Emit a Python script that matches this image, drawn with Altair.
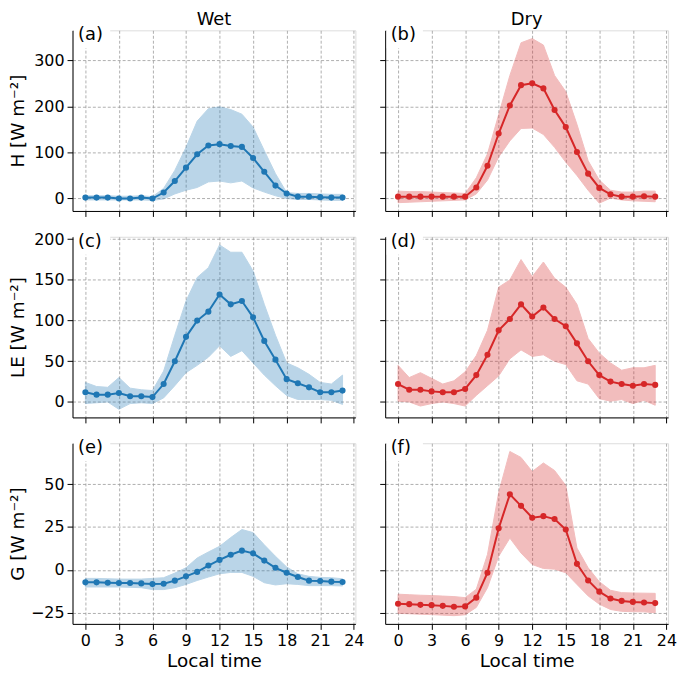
import altair as alt
import pandas as pd

hours = list(range(24))

wet_H_mean = [2, 2, 2, 0, 0, 2, 0, 13, 38, 67, 96, 115, 118, 114, 112, 88, 58, 28, 11, 4, 4, 3, 2, 2]
wet_H_hi = [6, 6, 6, 5, 5, 6, 4, 22, 61, 111, 168, 195, 199, 193, 183, 155, 104, 54, 13, 11, 11, 10, 9, 9]
wet_H_lo = [-3, -3, -3, -3, -3, -3, -4, -1, 10, 18, 24, 36, 38, 34, 38, 23, 14, 6, 0, -2, -2, -3, -4, -4]

dry_H_mean = [4, 4, 4, 4, 4, 4, 4, 24, 71, 141, 202, 246, 250, 239, 192, 155, 101, 54, 23, 9, 4, 4, 5, 4]
dry_H_hi = [16, 15, 15, 14, 13, 12, 11, 45, 97, 182, 267, 338, 347, 333, 267, 232, 161, 82, 40, 18, 14, 14, 16, 16]
dry_H_lo = [-9, -8, -7, -6, -5, -4, -3, 10, 40, 90, 125, 152, 153, 139, 111, 79, 50, 18, -10, 1, -3, -5, -6, -7]

wet_LE_mean = [12, 9, 9, 11, 7, 7, 6, 22, 50, 80, 100, 111, 132, 120, 124, 104, 75, 52, 28, 23, 18, 12, 12, 14]
wet_LE_hi = [24, 19, 18, 30, 17, 15, 14, 38, 82, 124, 153, 165, 193, 184, 184, 161, 120, 82, 48, 42, 34, 24, 22, 33]
wet_LE_lo = [-2, -1, 0, -9, -2, -1, -2, 5, 20, 36, 45, 55, 69, 56, 63, 48, 33, 20, 8, 3, 3, 3, 2, -3]

dry_LE_mean = [22, 15, 15, 13, 12, 12, 16, 33, 58, 88, 102, 120, 105, 116, 102, 93, 72, 50, 33, 25, 22, 20, 22, 21]
dry_LE_hi = [45, 30, 36, 29, 22, 26, 37, 57, 88, 141, 150, 175, 154, 172, 152, 141, 120, 78, 60, 48, 39, 42, 42, 45]
dry_LE_lo = [1, 0, -5, -2, 0, -2, -5, 8, 20, 32, 53, 64, 56, 58, 50, 46, 26, 22, 4, 1, 3, -2, 2, -4]

wet_G_mean = [-7.3, -7.3, -7.5, -7.7, -7.7, -7.9, -8.3, -8.1, -6.3, -3.8, -1.2, 2.5, 5.8, 8.8, 11.2, 9.6, 5.4, 1.2, -1.7, -4.2, -6.3, -6.5, -6.9, -7.1]
wet_G_hi = [-5, -5, -5.2, -5.4, -5.4, -5.4, -5, -4.6, -1.9, 1.2, 6.9, 10.4, 13.7, 18.8, 23.5, 21.7, 14.6, 7.9, 1.7, -2.3, -3.8, -4.4, -4.6, -5.2]
wet_G_lo = [-10, -10, -10, -10, -10.2, -10.4, -11.5, -11.5, -10.4, -8.5, -6.2, -4.2, -2.3, -1.5, -1.5, -3.8, -7.5, -8.8, -8.1, -8.5, -9.2, -9.2, -9.2, -9.4]

dry_G_mean = [-19.8, -20, -20.4, -20.6, -21, -21.5, -21.3, -16.2, -1.7, 24.2, 44, 37.3, 30.4, 31.3, 29.6, 23.5, 3.5, -6.2, -12.7, -16.7, -18.1, -18.7, -19, -19.4]
dry_G_hi = [-14.2, -14.5, -14.8, -15, -15.3, -15.6, -16.2, -11.3, 9, 45, 69, 65.5, 57.3, 62.3, 57.9, 49.2, 12.7, 1.2, -6.9, -11.9, -13.3, -13.5, -13.6, -13.7]
dry_G_lo = [-25.4, -25.6, -25.9, -26.1, -26.4, -26.7, -26.2, -21.9, -10.4, 7.9, 18.5, 9.8, 3.1, 0.8, 0.4, -1.7, -8.5, -15.2, -20, -23.1, -24.2, -24.4, -24.5, -25]

x_ticks = [0, 3, 6, 9, 12, 15, 18, 21, 24]
row_domains = [[-27, 365], [-19, 203], [-31.5, 73.8]]
row_ticks = [[0, 100, 200, 300], [0, 50, 100, 150, 200], [-25, 0, 25, 50]]
row_titles = ["H [W m⁻²]", "LE [W m⁻²]", "G [W m⁻²]"]
col_titles = ["Wet", "Dry"]
panel_labels = ["(a)", "(b)", "(c)", "(d)", "(e)", "(f)"]
colors = ["#1f77b4", "#d62728"]

W, H = 285, 182
FONT = "DejaVu Sans"

series = [
    (wet_H_mean, wet_H_lo, wet_H_hi), (dry_H_mean, dry_H_lo, dry_H_hi),
    (wet_LE_mean, wet_LE_lo, wet_LE_hi), (dry_LE_mean, dry_LE_lo, dry_LE_hi),
    (wet_G_mean, wet_G_lo, wet_G_hi), (dry_G_mean, dry_G_lo, dry_G_hi),
]

common_axis = dict(
    grid=True, gridDash=[3, 2], gridColor="#9a9a9a", gridWidth=0.8,
    domainColor="black", domainWidth=1.0, tickColor="black", tickSize=5.5, tickWidth=1.0,
    labelFont=FONT, labelFontSize=16, labelColor="black",
    titleFont=FONT, titleFontSize=18.5, titleFontWeight="normal", titleColor="black",
)


def make_panel(i):
    row, col = divmod(i, 2)
    mean, lo, hi = series[i]
    color = colors[col]
    df = pd.DataFrame({"hour": hours, "mean": mean, "lo": lo, "hi": hi})
    bottom = row == 2
    left = col == 0

    xaxis = alt.Axis(values=x_ticks, labels=bottom, labelPadding=3,
                     title="Local time" if bottom else None, titlePadding=3,
                     **common_axis)
    if left:
        yaxis = alt.Axis(values=row_ticks[row], labels=True, labelPadding=3,
                         labelExpr="replace(datum.label, '-', '\u2212')",
                         title=row_titles[row], titlePadding=3,
                         minExtent=42, maxExtent=42, **common_axis)
    else:
        yaxis = alt.Axis(values=row_ticks[row], labels=False, title=None, **common_axis)
    xenc = alt.X("hour:Q", scale=alt.Scale(domain=[-1.15, 24.15], nice=False, zero=False), axis=xaxis)
    yscale = alt.Scale(domain=row_domains[row], nice=False, zero=False)

    base = alt.Chart(df)
    band = base.mark_area(color=color, opacity=0.3, stroke=color, strokeWidth=1).encode(
        x=xenc, y=alt.Y("lo:Q", scale=yscale, axis=yaxis), y2="hi:Q")
    line = base.mark_line(color=color, strokeWidth=2).encode(
        x=xenc, y=alt.Y("mean:Q", scale=yscale, axis=yaxis))
    pts = base.mark_point(color=color, filled=True, opacity=1, size=38).encode(
        x=xenc, y=alt.Y("mean:Q", scale=yscale, axis=yaxis))

    lab_df = pd.DataFrame({"t": [panel_labels[i]]})
    box = alt.Chart(lab_df).mark_rect(color="white").encode(
        x=alt.value(1.5), x2=alt.value(38), y=alt.value(-4), y2=alt.value(18))
    lab = alt.Chart(lab_df).mark_text(font=FONT, fontSize=18, align="left", baseline="top",
                                      color="black").encode(
        x=alt.value(5.5), y=alt.value(-4), text="t:N")
    layers = [band, line, pts, box, lab]
    if row == 0:
        tdf = pd.DataFrame({"t": [col_titles[col]]})
        ttl = alt.Chart(tdf).mark_text(font=FONT, fontSize=18, align="center",
                                       baseline="alphabetic", color="black").encode(
            x=alt.value(W / 2), y=alt.value(-5), text="t:N")
        layers.append(ttl)
    return alt.layer(*layers).properties(width=W, height=H)


chart = alt.concat(
    *[make_panel(i) for i in range(6)],
    columns=2,
    spacing=alt.RowColnumber(row=26, column=30),
    bounds="flush",
).properties(
    padding=0
).configure_view(stroke=None).configure(background="white")

chart.save("out.html", embed_options={"renderer": "svg", "actions": False})
